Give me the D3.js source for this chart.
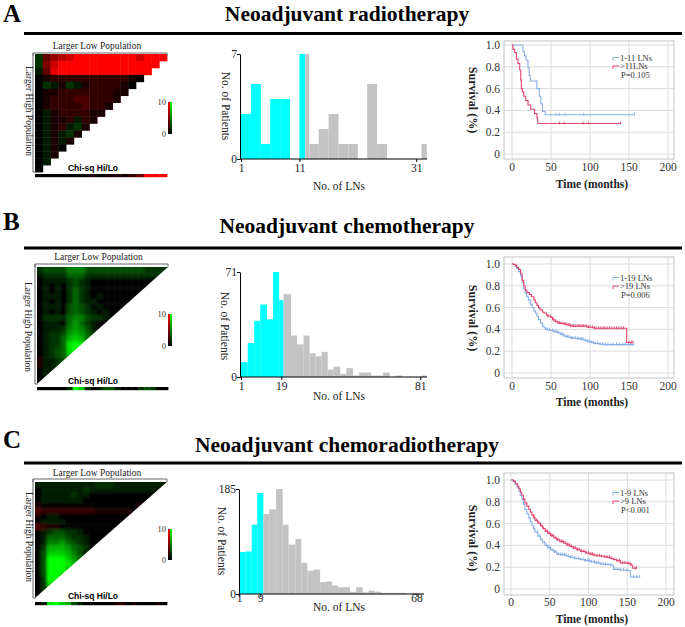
<!DOCTYPE html>
<html><head><meta charset="utf-8">
<script src="https://cdn.jsdelivr.net/npm/d3@7"></script>
<style>body{margin:0;background:#fff;} svg{display:block;}</style>
</head><body><svg id="c" width="685" height="627"></svg>
<script>
// ================= DATA =================
const panelLetters = ["A", "B", "C"];
const panelTitles = ["Neoadjuvant radiotherapy", "Neoadjuvant chemotherapy", "Neoadjuvant chemoradiotherapy"];

// Heatmap cells: '0' = black, 'A'..'J' = red level 1..10, 'a'..'j' = green level 1..10
const heatA = ["bDFGHJJJJJJJJHJJJ","bEHJJJJJJJJJJJJJ","aDIJJJJJJJJJJJJ","0ABBBBBBBBBBA0","0baAbaABBBBA0",
  "0AABBBBBBBAA","0ABBBCCBBBA","0ABBBBCBBA","0aABBBBAA","0aAABaBA","0aABabA","0aAabA","0aAaA","0aA0","0aA","0a","0"];
const stripA = "0000000A0AAABDJJJ";
const heatB = ["bcccceeeccccccccccbbbb","abbbbdddbbbbbbbbbbbbb","0aaaabcba00000000000","0a0a0bcba0000000000",
  "0a0a0bdba000000000","0aaa0bdba0a000000","0a0a0bdbaa000000","0aaa0cdcb0a0000","0a0a0cdcba0a00","0bbbbdeecbba0",
  "0aaa0dfdba00","0aaabefeca0","0abbcfgfdb","0abbdghgd","0abbdiji","0abcdij","0abcdh","Aaabc","Aaab","0aa","0a","0"];
const stripB = "00000bjhb0acca000bcb00";
const heatC = ["aaaaaaaaaabbbaaaaaaaaa","0aaaaaaabaaaaaaaaaaaa","0aaaaabaa00000000000","0aaaaaaa00000000000",
  "A0000000000000000A","CBBBBBBBBBAAAAAA0","A0aa000000000000","0aaaa0000000000","CBAA0000000000","0abccbba00000",
  "0adddcbba000","0aeefdcba00","0bgggfdcb0","0chhhgeca","0cjjjhfd","0cjjjig","0cjjjh","0cjji","0bjj","0bh","0b","0"];
const stripC = "0aijhgca00000AB0A000A0";

// Histograms (bin edges in No. of LNs, counts of patients)
const histA_edges = [1,2.7,4.4,6.0,7.7,9.4,11.0,12.0,12.7,14.3,16.0,17.7,19.4,21.0,22.6,24.3,26.0,31.9,32.8];
const histA_counts = [3,5,1,4,4,0,7,7,1,2,3,1,1,0,5,1,0,1];
const histA_nLow = 7;
const histA_ticks = [1, 11, 31];
const histA_ymax = 7;

const histB_edges = [1,4,6.9,9.6,12.6,15.3,18,20,23.3,26,28.9,31.6,34.3,37,39.7,42.3,45.3,48,51,53.7,59,64.4,67.3,69.9,72.9,81.8,84];
const histB_counts = [10,23,38,49,39,71,52,56,28,22,28,16,14,17,5,7,2,6,1,3,1,3,0,1,0,1];
const histB_nLow = 7;
const histB_ticks = [1, 19, 81];
const histB_ymax = 71;

const histC_edges = [1,3.5,5.8,7.9,10.2,12.4,15,17.5,19.7,22.3,24.5,26.8,29.3,31.6,33.8,36.1,38.4,42.9,45.2,47.7,49.9,52.2,54.5,56.7,64.3,66.3,68.5];
const histC_counts = [74,75,122,178,141,149,185,122,87,97,55,41,43,21,22,15,12,4,12,3,6,4,2,2,0,2];
const histC_nLow = 4;
const histC_ticks = [1, 9, 68];
const histC_ymax = 185;

// Kaplan-Meier curves: [months, survival]
const kmA_low = [[0,1],[14,0.94],[16,0.9],[18,0.86],[20.5,0.79],[22,0.72],[23.5,0.67],[32,0.6],[35,0.53],[37,0.46],[39,0.39],[42.5,0.36]];
const kmA_lowEnd = 157;
const kmA_lowCens = [56,61,68,92,157];
const kmA_high = [[0,1],[1.3,0.96],[3.4,0.93],[5.6,0.87],[7.7,0.83],[9.9,0.77],[11.2,0.68],[12,0.6],[13.3,0.57],[15,0.53],[17.6,0.49],[20.6,0.45],[24,0.41],[29,0.37],[32,0.33],[33,0.28]];
const kmA_highEnd = 139;
const kmA_highCens = [61,67,91,98,139];
const kmA_legend = ["1-11 LNs", ">11LNs", "P=0.105"];

const kmB_low = [[0,1],[2,0.995],[4,0.98],[6,0.96],[8.5,0.93],[11,0.89],[13,0.83],[15,0.77],[17,0.73],[19,0.7],[21,0.67],[23.5,0.63],[26,0.6],[28,0.57],[30,0.55],[32,0.52],[34,0.49],[36.5,0.46],[39,0.43],[41,0.415],[43,0.4],[46,0.395],[49,0.39],[53,0.38],[58,0.37],[62,0.355],[66,0.34],[70,0.33],[75,0.32],[82,0.315],[88,0.31],[92,0.3],[96,0.29],[100,0.28],[105,0.27],[112,0.265],[118,0.26]];
const kmB_lowEnd = 156;
const kmB_lowCens = [45,48,52,55,57,60,63,65,68,71,73,76,78,81,84,86,89,91,94,97,99,102,104,107,110,113,116,120,123,127,130,134,138,142,145,149,152,156];
const kmB_high = [[0,1],[2,0.995],[4,0.99],[6,0.97],[8.5,0.95],[11,0.91],[13,0.85],[15,0.8],[17,0.76],[19,0.74],[22,0.72],[25,0.7],[28,0.67],[30,0.645],[32,0.62],[34,0.6],[36,0.58],[39,0.56],[41,0.55],[44,0.53],[46,0.52],[50,0.51],[52,0.49],[54,0.475],[58,0.46],[62,0.455],[66,0.45],[70,0.44],[75,0.43],[88,0.43],[96,0.42],[105,0.41],[147,0.28]];
const kmB_highEnd = 155;
const kmB_highCens = [46,49,53,56,59,61,64,67,69,72,74,77,79,82,85,87,90,92,95,98,100,103,106,108,111,114,117,119,122,125,128,131,134,137,140,143,150,153,155];
const kmB_legend = ["1-19 LNs", ">19 LNs", "P=0.006"];

const kmC_low = [[0,1],[3,0.99],[5.5,0.96],[8,0.93],[10,0.9],[12,0.86],[14,0.82],[16,0.775],[18,0.73],[20.5,0.69],[23,0.65],[25,0.615],[27,0.58],[29,0.55],[31,0.52],[34.5,0.485],[38,0.45],[41,0.425],[44,0.4],[47.5,0.38],[51,0.36],[55,0.34],[59,0.32],[63,0.315],[68,0.31],[72,0.3],[76,0.29],[82,0.28],[89,0.27],[95,0.26],[102,0.25],[108,0.24],[115,0.23],[121,0.225],[128,0.22],[132,0.18],[140,0.175],[149,0.17],[154,0.11]];
const kmC_lowEnd = 166;
const kmC_lowCens = [30,34,37,40,43,46,48,50,53,56,58,61,64,66,69,71,74,77,79,82,84,87,90,93,96,99,101,104,107,110,113,116,119,122,125,129,134,137,141,145,150,158,162,166];
const kmC_high = [[0,1],[3,0.99],[5.5,0.97],[8,0.945],[10,0.92],[12,0.89],[14,0.86],[16,0.825],[18,0.79],[20.5,0.76],[23,0.73],[25,0.705],[27,0.68],[29,0.655],[31,0.63],[34.5,0.605],[38,0.58],[41,0.555],[44,0.53],[47.5,0.51],[51,0.49],[55,0.47],[59,0.45],[63,0.435],[68,0.42],[72,0.405],[76,0.39],[80,0.375],[85,0.36],[90,0.345],[96,0.33],[101,0.32],[106,0.31],[110,0.305],[115,0.3],[120,0.295],[124,0.29],[128,0.28],[132,0.27],[136,0.26],[141,0.24],[150,0.235],[154,0.22],[157,0.19]];
const kmC_highEnd = 162;
const kmC_highCens = [30,33,36,39,42,45,47,49,52,54,57,60,62,65,67,70,73,75,78,81,83,86,88,91,94,97,100,103,105,108,111,114,117,121,124,127,130,133,137,140,144,147,152,155,160,162];
const kmC_legend = ["1-9 LNs", ">9 LNs", "P<0.001"];

const kmXTicks = [0, 50, 100, 150, 200];
const kmYTicks = [0, 0.2, 0.4, 0.6, 0.8, 1.0];

// ================= LAYOUT =================
const SERIF = "'Liberation Serif','Times New Roman',serif";
const SANS = "'Liberation Sans',Arial,sans-serif";
const CYAN = "#00ffff", GRAY = "#c3c3c3", BLUE = "#86aee6", RED = "#e3456d";

const layout = [
  { letterY: 22, titleY: 21, ruleY: 33.5,
    heat: {left:35, top:54, w:132, h:118, bracketY:53, lowY:49, highX:29, highY:111, chiY:171, stripY:174, cbTop:102, cbBot:134, smooth:false},
    hist: {axisX:240, top:54, base:159, xDom:[1,32.5], xRange:[241,425], xEnd:427, tickY:172, labY:190, patX:226, patY:106},
    km: {x0:512, x200:668, y1:45, y0:154, fTop:41, fBot:159, tickY:171, timeY:188, survY:100, legY:[60.5,69,77.5]} },
  { letterY: 230, titleY: 233, ruleY: 248,
    heat: {left:37, top:267, w:131, h:117, bracketY:264, lowY:260, highX:28, highY:327, chiY:384, stripY:387, cbTop:314, cbBot:346, smooth:true},
    hist: {axisX:240, top:272, base:377, xDom:[1,84], xRange:[241,427], xEnd:427, tickY:390, labY:400, patX:225, patY:326},
    km: {x0:512, x200:668, y1:264, y0:373, fTop:257, fBot:378, tickY:390, timeY:406, survY:318, legY:[280.5,289,297.5]} },
  { letterY: 448, titleY: 452, ruleY: 463,
    heat: {left:35, top:482, w:132, h:116, bracketY:479, lowY:476, highX:29, highY:537, chiY:599, stripY:602, cbTop:529, cbBot:560, smooth:true},
    hist: {axisX:239, top:489, base:594, xDom:[1,71], xRange:[239,424.5], xEnd:424, tickY:602, labY:611, patX:222, patY:541},
    km: {x0:511, x200:666, y1:480, y0:589, fTop:473, fBot:595, tickY:606, timeY:623, survY:538, legY:[495.5,504,512.5]} }
];

const heats = [[heatA, stripA], [heatB, stripB], [heatC, stripC]];
const hists = [
  [histA_edges, histA_counts, histA_nLow, histA_ticks, histA_ymax],
  [histB_edges, histB_counts, histB_nLow, histB_ticks, histB_ymax],
  [histC_edges, histC_counts, histC_nLow, histC_ticks, histC_ymax]];
const kms = [
  [[kmA_low, kmA_lowEnd, kmA_lowCens], [kmA_high, kmA_highEnd, kmA_highCens], kmA_legend],
  [[kmB_low, kmB_lowEnd, kmB_lowCens], [kmB_high, kmB_highEnd, kmB_highCens], kmB_legend],
  [[kmC_low, kmC_lowEnd, kmC_lowCens], [kmC_high, kmC_highEnd, kmC_highCens], kmC_legend]];

// ================= DRAW =================
const svg = d3.select("#c");
const defs = svg.append("defs");
const lev = d3.scaleLinear().domain([0, 10]).range([0, 255]).clamp(true);
function cellColor(ch) {
  if (ch >= "A" && ch <= "J") return d3.rgb(lev(ch.charCodeAt(0) - 64), 0, 0).toString();
  if (ch >= "a" && ch <= "j") return d3.rgb(0, lev(ch.charCodeAt(0) - 96), 0).toString();
  return "#000";
}
[["gRed", "#ff0000"], ["gGreen", "#00ff00"]].forEach(([id, c]) => {
  const lg = defs.append("linearGradient").attr("id", id).attr("x1", 0).attr("y1", 1).attr("x2", 0).attr("y2", 0);
  lg.append("stop").attr("offset", "0%").attr("stop-color", "#000");
  lg.append("stop").attr("offset", "100%").attr("stop-color", c);
});
defs.append("filter").attr("id", "blur").attr("x", "-5%").attr("y", "-5%").attr("width", "110%").attr("height", "110%")
  .append("feGaussianBlur").attr("stdDeviation", 1.5);

layout.forEach((L, p) => {
  const g = svg.append("g");
  // header
  g.append("text").attr("x", 3).attr("y", L.letterY).text(panelLetters[p])
    .attr("font-family", SERIF).attr("font-weight", "bold").attr("font-size", 25);
  g.append("text").attr("x", 347).attr("y", L.titleY).attr("text-anchor", "middle").text(panelTitles[p])
    .attr("font-family", SERIF).attr("font-weight", "bold").attr("font-size", 21.5);
  g.append("line").attr("x1", 24).attr("x2", 682).attr("y1", L.ruleY).attr("y2", L.ruleY)
    .attr("stroke", "#000").attr("stroke-width", 3);

  // ---------- heatmap ----------
  const H = L.heat, [rows, strip] = heats[p];
  const N = rows.length;
  const hx = d3.scaleLinear().domain([0, N]).range([H.left, H.left + H.w]);
  const hy = d3.scaleLinear().domain([0, N]).range([H.top, H.top + H.h]);
  const cells = [];
  rows.forEach((row, r) => {
    const len = N - r;
    for (let c = 0; c < len; c++) cells.push({r, c, v: row[Math.min(c, row.length - 1)]});
    if (H.smooth) {
      for (let c = len; c < len + 2; c++) cells.push({r, c, v: row[row.length - 1]});
      cells.push({r, c: -1, v: row[0]});
    }
  });
  if (H.smooth) for (let c = -1; c < N + 2; c++) cells.push({r: -1, c, v: rows[0][Math.max(0, Math.min(c, N - 1))]});
  let hg = g.append("g");
  if (H.smooth) {
    const cid = "clip" + p;
    defs.append("clipPath").attr("id", cid).append("polygon")
      .attr("points", [[hx(0), hy(0)], [hx(N), hy(0)], [hx(0), hy(N)]].map(d => d.join(",")).join(" "));
    hg = hg.attr("clip-path", `url(#${cid})`).append("g").attr("filter", "url(#blur)");
  }
  hg.selectAll("rect").data(cells).join("rect")
    .attr("x", d => hx(d.c)).attr("y", d => hy(d.r))
    .attr("width", hx(1) - hx(0) + 0.4).attr("height", hy(1) - hy(0) + 0.4)
    .attr("fill", d => cellColor(d.v));
  g.append("g").selectAll("rect").data(strip.split("")).join("rect")
    .attr("x", (d, i) => hx(i)).attr("y", H.stripY).attr("width", hx(1) - hx(0) + 0.4).attr("height", 3.2)
    .attr("fill", d => cellColor(d));
  g.append("path").attr("fill", "none").attr("stroke", "#666").attr("stroke-width", 1)
    .attr("d", `M${H.left - 2},${H.bracketY + 3}V${H.bracketY}H${H.left + H.w}V${H.bracketY + 3}`);
  g.append("path").attr("fill", "none").attr("stroke", "#666").attr("stroke-width", 1)
    .attr("d", `M${H.left - 2},${H.bracketY}V${H.top + H.h}H${H.left + 1}`);
  g.append("text").attr("x", H.left + H.w / 2 - 4).attr("y", H.lowY).attr("text-anchor", "middle")
    .attr("font-family", SERIF).attr("font-size", 9.5).attr("fill", "#222").text("Larger Low Population");
  g.append("text").attr("transform", `translate(${H.highX},${H.highY}) rotate(90)`).attr("text-anchor", "middle")
    .attr("dominant-baseline", "central").attr("font-family", SERIF).attr("font-size", 9.5).attr("fill", "#222")
    .text("Larger High Population");
  g.append("text").attr("x", 93).attr("y", H.chiY).attr("text-anchor", "middle").attr("font-family", SANS)
    .attr("font-weight", "bold").attr("font-size", 8.5).text("Chi-sq Hi/Lo");
  g.append("rect").attr("x", 168).attr("y", H.cbTop).attr("width", 2).attr("height", H.cbBot - H.cbTop).attr("fill", "url(#gRed)");
  g.append("rect").attr("x", 170).attr("y", H.cbTop).attr("width", 2).attr("height", H.cbBot - H.cbTop).attr("fill", "url(#gGreen)");
  g.append("text").attr("x", 166).attr("y", H.cbTop + 3).attr("text-anchor", "end").attr("font-family", SERIF)
    .attr("font-size", 8.5).attr("fill", "#333").text("10");
  g.append("text").attr("x", 166).attr("y", H.cbBot + 3).attr("text-anchor", "end").attr("font-family", SERIF)
    .attr("font-size", 8.5).attr("fill", "#333").text("0");

  // ---------- histogram ----------
  const S = L.hist, [edges, counts, nLow, ticks, ymax] = hists[p];
  const x = d3.scaleLinear().domain(S.xDom).range(S.xRange);
  const y = d3.scaleLinear().domain([0, ymax]).range([S.base, S.top]);
  g.append("g").selectAll("rect").data(counts).join("rect")
    .attr("x", (d, i) => x(edges[i])).attr("width", (d, i) => Math.max(0, x(edges[i + 1]) - x(edges[i])))
    .attr("y", d => y(d)).attr("height", d => S.base - y(d))
    .attr("fill", (d, i) => i < nLow ? CYAN : GRAY);
  const yAx = g.append("g").attr("transform", `translate(${S.axisX},0)`)
    .call(d3.axisLeft(y).tickValues([0, ymax]).tickSize(3).tickSizeOuter(0).tickFormat(d3.format("d")));
  const xAx = g.append("g").attr("transform", `translate(0,${S.base})`)
    .call(d3.axisBottom(x).tickValues(ticks).tickSize(3).tickSizeOuter(0).tickFormat(d3.format("d")));
  xAx.select(".domain").attr("d", `M${S.axisX},0H${S.xEnd}`);
  [yAx, xAx].forEach(a => {
    a.selectAll("text").attr("font-family", SERIF).attr("font-size", 11.5).attr("fill", "#222");
    a.selectAll("line,.domain").attr("stroke", "#000");
  });
  yAx.selectAll("text").attr("x", -3);
  xAx.selectAll("text").attr("y", S.tickY - S.base).attr("dy", 0);
  g.append("text").attr("x", 339).attr("y", S.labY).attr("text-anchor", "middle").attr("font-family", SERIF)
    .attr("font-size", 11.5).attr("fill", "#222").text("No. of LNs");
  g.append("text").attr("transform", `translate(${S.patX},${S.patY}) rotate(90)`).attr("text-anchor", "middle")
    .attr("dominant-baseline", "central").attr("font-family", SERIF).attr("font-size", 11.5).attr("fill", "#222")
    .text("No. of Patients");

  // ---------- Kaplan-Meier ----------
  const K = L.km, [low, high, legend] = kms[p];
  const kx = d3.scaleLinear().domain([0, 200]).range([K.x0, K.x200]);
  const ky = d3.scaleLinear().domain([0, 1]).range([K.y0, K.y1]);
  const fl = 504, fr = 674;
  g.append("g").selectAll("line").data(kmXTicks).join("line")
    .attr("x1", d => kx(d)).attr("x2", d => kx(d)).attr("y1", K.fTop).attr("y2", K.fBot).attr("stroke", "#dcdcdc");
  g.append("g").selectAll("line").data(kmYTicks).join("line")
    .attr("x1", fl).attr("x2", fr).attr("y1", d => ky(d)).attr("y2", d => ky(d)).attr("stroke", "#dcdcdc");
  g.append("rect").attr("x", fl).attr("y", K.fTop).attr("width", fr - fl).attr("height", K.fBot - K.fTop)
    .attr("fill", "none").attr("stroke", "#c4c4c4");
  g.append("g").selectAll("text").data(kmXTicks).join("text").attr("x", d => kx(d)).attr("y", K.tickY)
    .attr("text-anchor", "middle").attr("font-family", SERIF).attr("font-size", 11.5).attr("fill", "#333").text(d => d);
  g.append("g").selectAll("text").data(kmYTicks).join("text").attr("x", 500).attr("y", d => ky(d) + 4)
    .attr("text-anchor", "end").attr("font-family", SERIF).attr("font-size", 11.5).attr("fill", "#333")
    .text(d => d === 0 ? "0" : d3.format(".1f")(d));
  g.append("text").attr("x", 592).attr("y", K.timeY).attr("text-anchor", "middle").attr("font-family", SERIF)
    .attr("font-weight", "bold").attr("font-size", 11.5).attr("fill", "#222").text("Time (months)");
  g.append("text").attr("transform", `translate(473,${K.survY}) rotate(90)`).attr("text-anchor", "middle")
    .attr("dominant-baseline", "central").attr("font-family", SERIF).attr("font-weight", "bold")
    .attr("font-size", 12).attr("fill", "#222").text("Survival (%)");
  const line = d3.line().x(d => kx(d[0])).y(d => ky(d[1])).curve(d3.curveStepAfter);
  const bis = d3.bisector(d => d[0]).right;
  [[low, BLUE], [high, RED]].forEach(([[pts, end, cens], col]) => {
    const all = pts.concat([[end, pts[pts.length - 1][1]]]);
    g.append("path").attr("d", line(all)).attr("fill", "none").attr("stroke", col).attr("stroke-width", 1.1);
    g.append("g").selectAll("line").data(cens).join("line")
      .attr("x1", d => kx(d)).attr("x2", d => kx(d))
      .attr("y1", d => ky(pts[bis(pts, d) - 1][1]) - 2).attr("y2", d => ky(pts[bis(pts, d) - 1][1]) + 1)
      .attr("stroke", col).attr("stroke-width", 0.9);
  });
  // legend
  [[BLUE, 0], [RED, 1]].forEach(([col, i]) => {
    const yy = K.legY[i] - 3;
    g.append("path").attr("d", `M613,${yy + 3}V${yy}H619`).attr("fill", "none").attr("stroke", col).attr("stroke-width", 1);
    g.append("text").attr("x", 620).attr("y", K.legY[i]).attr("font-family", SERIF).attr("font-size", 8.5)
      .attr("fill", "#333").text(legend[i]);
  });
  g.append("text").attr("x", 621).attr("y", K.legY[2]).attr("font-family", SERIF).attr("font-size", 8.5)
    .attr("fill", "#333").text(legend[2]);
});
</script></body></html>
